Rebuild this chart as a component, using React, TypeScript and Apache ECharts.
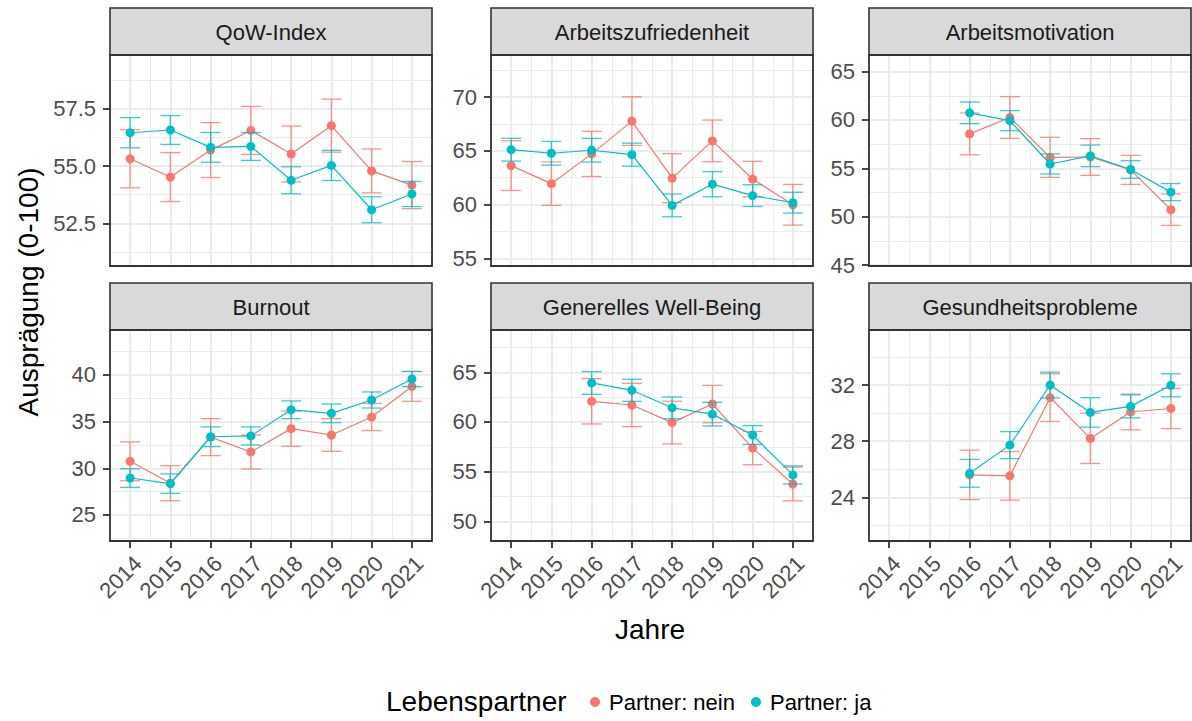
import React, { useEffect, useRef } from "react";
import * as echarts from "echarts";

const years = ["2014", "2015", "2016", "2017", "2018", "2019", "2020", "2021"];
const panelTitles = [
  "QoW-Index",
  "Arbeitszufriedenheit",
  "Arbeitsmotivation",
  "Burnout",
  "Generelles Well-Being",
  "Gesundheitsprobleme",
];
const groupNames = ["Partner: nein", "Partner: ja"];

// Mittelwerte und Konfidenzintervall-Halbbreiten
const qowNein = [55.32, 54.52, 55.7, 56.56, 55.53, 56.77, 54.79, 54.17];
const qowNeinCI = [1.27, 1.07, 1.2, 1.05, 1.22, 1.16, 0.96, 1.03];
const qowJa = [56.46, 56.58, 55.82, 55.86, 54.38, 55.03, 53.09, 53.78];
const qowJaCI = [0.66, 0.63, 0.65, 0.61, 0.59, 0.66, 0.57, 0.55];

const azNein = [63.62, 61.94, 64.71, 67.76, 62.45, 65.92, 62.37, 59.98];
const azNeinCI = [2.31, 2.02, 2.1, 2.26, 2.28, 1.94, 1.65, 1.89];
const azJa = [65.1, 64.77, 65.05, 64.64, 59.92, 61.89, 60.83, 60.17];
const azJaCI = [1.06, 1.1, 1.1, 1.07, 1.06, 1.17, 1.01, 0.97];

const amNein = [null, null, 58.56, 60.26, 56.14, 56.17, 54.84, 50.72];
const amNeinCI = [null, null, 2.16, 2.16, 2.07, 1.9, 1.5, 1.62];
const amJa = [null, null, 60.74, 59.93, 55.45, 56.29, 54.88, 52.54];
const amJaCI = [null, null, 1.12, 1.04, 1.04, 1.12, 0.91, 0.88];

const boNein = [30.75, 28.4, 33.34, 31.75, 34.25, 33.57, 35.49, 38.77];
const boNeinCI = [2.08, 1.88, 1.98, 1.82, 1.89, 1.75, 1.45, 1.59];
const boJa = [28.96, 28.36, 33.38, 33.47, 36.27, 35.89, 37.32, 39.57];
const boJaCI = [1.0, 1.04, 1.06, 0.97, 0.95, 1.0, 0.86, 0.82];

const wbNein = [null, null, 62.08, 61.71, 59.94, 61.81, 57.37, 53.76];
const wbNeinCI = [null, null, 2.28, 2.18, 2.15, 1.88, 1.67, 1.7];
const wbJa = [null, null, 63.93, 63.19, 61.43, 60.79, 58.69, 54.67];
const wbJaCI = [null, null, 1.14, 1.11, 1.09, 1.19, 0.94, 0.91];

const ghNein = [null, null, 25.6, 25.53, 31.1, 28.2, 30.08, 30.33];
const ghNeinCI = [null, null, 1.76, 1.73, 1.7, 1.79, 1.27, 1.43];
const ghJa = [null, null, 25.71, 27.72, 32.0, 30.05, 30.48, 31.98];
const ghJaCI = [null, null, 0.99, 0.96, 0.92, 1.05, 0.82, 0.82];

// Achsen
const yMin = [50.63, 54.28, 44.9, 22.21, 48.02, 20.89];
const yMax = [59.86, 73.91, 66.72, 44.82, 69.26, 35.92];
const yTicks = [
  [52.5, 55, 57.5],
  [55, 60, 65, 70],
  [45, 50, 55, 60, 65],
  [25, 30, 35, 40],
  [50, 55, 60, 65],
  [24, 28, 32],
];
const yMinorTicks = [
  [51.25, 53.75, 56.25, 58.75],
  [57.5, 62.5, 67.5, 72.5],
  [47.5, 52.5, 57.5, 62.5],
  [22.5, 27.5, 32.5, 37.5, 42.5],
  [52.5, 57.5, 62.5, 67.5],
  [22, 26, 30, 34],
];
const yDecimals = [1, 0, 0, 0, 0, 0];

const panelData = [
  [qowNein, qowNeinCI, qowJa, qowJaCI],
  [azNein, azNeinCI, azJa, azJaCI],
  [amNein, amNeinCI, amJa, amJaCI],
  [boNein, boNeinCI, boJa, boJaCI],
  [wbNein, wbNeinCI, wbJa, wbJaCI],
  [ghNein, ghNeinCI, ghJa, ghJaCI],
];

const COLORS = ["#F8766D", "#00BFC4"];
const ERR_COLORS = ["rgba(248,118,109,0.78)", "rgba(0,191,196,0.78)"];
const FONT = "Liberation Sans, Arial, Helvetica, sans-serif";

const COL_LEFT = [110, 491, 869];
const PANEL_W = 322;
const STRIP_TOP = [8, 283];
const PLOT_TOP = [55, 330];
const PLOT_H = 211;

function buildOption() {
  const grid: any[] = [];
  const xAxis: any[] = [];
  const yAxis: any[] = [];
  const series: any[] = [];
  const graphic: any[] = [];

  for (let p = 0; p < 6; p++) {
    const row = Math.floor(p / 3);
    const col = p % 3;
    const left = COL_LEFT[col];
    const top = PLOT_TOP[row];
    grid.push({ left, top, width: PANEL_W, height: PLOT_H, show: false, containLabel: false });
    const bottomRow = row === 1;
    xAxis.push({
      type: "category",
      gridIndex: p,
      data: years,
      boundaryGap: true,
      axisLine: { show: false },
      axisTick: {
        show: bottomRow,
        alignWithLabel: true,
        length: 7,
        lineStyle: { color: "#333333", width: 1.8 },
      },
      axisLabel: {
        show: bottomRow,
        rotate: 45,
        align: "right",
        verticalAlign: "top",
        margin: 11,
        fontSize: 22,
        color: "#4D4D4D",
        fontFamily: FONT,
        interval: 0,
      },
      splitLine: { show: true, lineStyle: { color: "#EBEBEB", width: 1 } },
    });
    const dec = yDecimals[p];
    yAxis.push({
      type: "value",
      gridIndex: p,
      min: yMin[p],
      max: yMax[p],
      axisLine: { show: false },
      axisTick: {
        show: true,
        length: 7,
        customValues: yTicks[p],
        lineStyle: { color: "#333333", width: 1.8 },
      },
      axisLabel: {
        show: true,
        customValues: yTicks[p],
        formatter: (v: number) => v.toFixed(dec),
        fontSize: 22,
        color: "#4D4D4D",
        fontFamily: FONT,
        margin: 14,
      },
      splitLine: { show: false },
    });

    // Gitterlinien
    const mlData: any[] = [];
    yMinorTicks[p].forEach((v) =>
      mlData.push({ yAxis: v, lineStyle: { color: "#EBEBEB", width: 1, type: "solid" } })
    );
    yTicks[p].forEach((v) =>
      mlData.push({ yAxis: v, lineStyle: { color: "#EBEBEB", width: 2.2, type: "solid" } })
    );
    years.forEach((y) =>
      mlData.push({ xAxis: y, lineStyle: { color: "#EBEBEB", width: 2.2, type: "solid" } })
    );
    series.push({
      type: "line",
      name: "grid" + p,
      xAxisIndex: p,
      yAxisIndex: p,
      data: years.map(() => null),
      symbol: "none",
      silent: true,
      z: 1,
      markLine: {
        silent: true,
        z: 1,
        symbol: ["none", "none"],
        label: { show: false },
        emphasis: { disabled: true },
        lineStyle: { type: "solid" },
        data: mlData,
      },
    });

    const [m0, c0, m1, c1] = panelData[p];
    const groups = [
      [m0, c0],
      [m1, c1],
    ];
    // Fehlerbalken
    groups.forEach(([means, cis], g) => {
      const errData: any[] = [];
      (means as any[]).forEach((m, i) => {
        if (m != null) errData.push([i, m - (cis as any[])[i], m + (cis as any[])[i]]);
      });
      const color = ERR_COLORS[g];
      series.push({
        type: "custom",
        name: "err" + g + "_" + p,
        xAxisIndex: p,
        yAxisIndex: p,
        z: 3 + g * 2,
        silent: true,
        encode: { x: 0, y: [1, 2] },
        data: errData,
        renderItem: (params: any, api: any) => {
          const x = api.value(0);
          const lo = api.coord([x, api.value(1)]);
          const hi = api.coord([x, api.value(2)]);
          const hw = 10;
          const style = { stroke: color, lineWidth: 1.3 };
          return {
            type: "group",
            children: [
              { type: "line", shape: { x1: lo[0], y1: lo[1], x2: hi[0], y2: hi[1] }, style },
              { type: "line", shape: { x1: lo[0] - hw, y1: lo[1], x2: lo[0] + hw, y2: lo[1] }, style },
              { type: "line", shape: { x1: hi[0] - hw, y1: hi[1], x2: hi[0] + hw, y2: hi[1] }, style },
            ],
          };
        },
      });
    });
    // Linien + Punkte
    groups.forEach(([means], g) => {
      series.push({
        type: "line",
        name: groupNames[g],
        xAxisIndex: p,
        yAxisIndex: p,
        z: 4 + g * 2,
        data: means,
        symbol: "circle",
        symbolSize: 9,
        showSymbol: true,
        itemStyle: { color: COLORS[g] },
        lineStyle: { color: COLORS[g], width: 1.2 },
        emphasis: { disabled: true },
      });
    });

    // Streifen
    graphic.push({
      type: "rect",
      shape: { x: left, y: STRIP_TOP[row], width: PANEL_W, height: top - STRIP_TOP[row] },
      style: { fill: "#D9D9D9", stroke: "#333333", lineWidth: 1.6 },
      z: 50,
    });
    graphic.push({
      type: "text",
      x: left + PANEL_W / 2,
      y: (STRIP_TOP[row] + top) / 2 + 1,
      style: {
        text: panelTitles[p],
        fontSize: 22,
        fill: "#1A1A1A",
        fontFamily: FONT,
        align: "center",
        verticalAlign: "middle",
      },
      z: 51,
    });
    // Rahmen
    graphic.push({
      type: "rect",
      shape: { x: left, y: top, width: PANEL_W, height: PLOT_H },
      style: { fill: "none", stroke: "#333333", lineWidth: 1.8 },
      z: 50,
      silent: true,
    });
  }

  graphic.push({
    type: "text",
    x: 28,
    y: 292,
    rotation: Math.PI / 2,
    style: {
      text: "Ausprägung (0-100)",
      fontSize: 28,
      fill: "#000000",
      fontFamily: FONT,
      align: "center",
      verticalAlign: "middle",
    },
  });
  graphic.push({
    type: "text",
    x: 650,
    y: 629,
    style: {
      text: "Jahre",
      fontSize: 28,
      fill: "#000000",
      fontFamily: FONT,
      align: "center",
      verticalAlign: "middle",
    },
  });
  graphic.push({
    type: "text",
    x: 386,
    y: 701,
    style: {
      text: "Lebenspartner",
      fontSize: 28,
      fill: "#000000",
      fontFamily: FONT,
      align: "left",
      verticalAlign: "middle",
    },
  });

  return {
    animation: false,
    backgroundColor: "#ffffff",
    grid,
    xAxis,
    yAxis,
    series,
    graphic,
    legend: {
      data: groupNames,
      left: 585,
      top: 686,
      icon: "circle",
      itemWidth: 10,
      itemHeight: 10,
      itemGap: 16,
      selectedMode: false,
      textStyle: {
        fontSize: 22,
        color: "#000000",
        fontFamily: FONT,
        padding: [0, 0, 0, 4],
      },
    },
  };
}

export default function App() {
  const ref = useRef<HTMLDivElement>(null);
  useEffect(() => {
    if (!ref.current) return;
    const chart = echarts.init(ref.current, undefined, { renderer: "svg" });
    chart.setOption(buildOption() as any);
    return () => chart.dispose();
  }, []);
  return (
    <div
      ref={ref}
      style={{ position: "fixed", left: 0, top: 0, width: 1192, height: 721, background: "#fff" }}
    />
  );
}
